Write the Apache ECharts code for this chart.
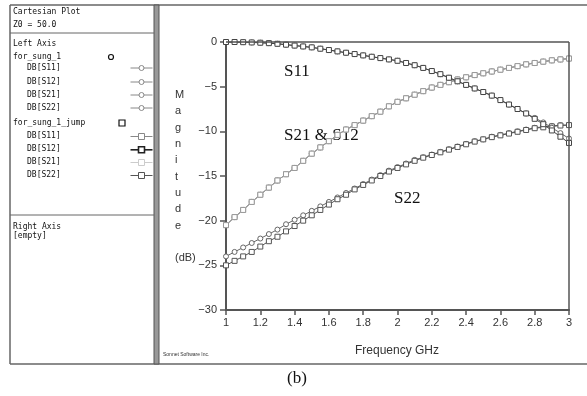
<!DOCTYPE html>
<html>
<head>
<meta charset="utf-8">
<script src="https://cdn.jsdelivr.net/npm/echarts@6/dist/echarts.min.js"></script>
<style>
  html, body { margin: 0; padding: 0; background: #fff; }
  #chart { width: 587px; height: 396px; }
</style>
</head>
<body>
<div id="chart"></div>
<script>
// frequency points (GHz)
const freq = [1.00, 1.05, 1.10, 1.15, 1.20, 1.25, 1.30, 1.35, 1.40, 1.45,
  1.50, 1.55, 1.60, 1.65, 1.70, 1.75, 1.80, 1.85, 1.90, 1.95,
  2.00, 2.05, 2.10, 2.15, 2.20, 2.25, 2.30, 2.35, 2.40, 2.45,
  2.50, 2.55, 2.60, 2.65, 2.70, 2.75, 2.80, 2.85, 2.90, 2.95, 3.00];

// magnitudes in dB
const s11 = [0.0, 0.0, -0.02, -0.05, -0.08, -0.13, -0.2, -0.3, -0.4, -0.5,
  -0.6, -0.75, -0.9, -1.05, -1.2, -1.35, -1.5, -1.65, -1.8, -1.95,
  -2.1, -2.35, -2.6, -2.9, -3.25, -3.6, -4.0, -4.4, -4.8, -5.2,
  -5.6, -6.0, -6.5, -7.0, -7.5, -8.0, -8.5, -9.0, -9.6, -10.2, -10.8];
const s11Jump = [0.0, 0.0, -0.02, -0.05, -0.08, -0.13, -0.2, -0.3, -0.4, -0.5,
  -0.6, -0.75, -0.9, -1.05, -1.2, -1.35, -1.5, -1.65, -1.8, -1.95,
  -2.1, -2.35, -2.6, -2.9, -3.25, -3.6, -4.0, -4.4, -4.8, -5.2,
  -5.6, -6.0, -6.5, -7.0, -7.5, -8.0, -8.6, -9.2, -9.9, -10.6, -11.3];
const s21 = [-20.5, -19.6, -18.8, -17.9, -17.1, -16.3, -15.5, -14.8, -14.1, -13.3,
  -12.5, -11.8, -11.1, -10.4, -9.8, -9.3, -8.8, -8.3, -7.8, -7.2,
  -6.7, -6.3, -5.9, -5.5, -5.1, -4.8, -4.5, -4.2, -3.95, -3.7,
  -3.5, -3.3, -3.1, -2.9, -2.7, -2.5, -2.35, -2.2, -2.05, -1.95, -1.85];
const s12 = s21;
const s22 = [-24.0, -23.5, -23.0, -22.5, -22.0, -21.5, -21.0, -20.4, -19.9, -19.4,
  -18.9, -18.4, -17.9, -17.4, -16.9, -16.4, -15.9, -15.4, -14.9, -14.4,
  -14.0, -13.6, -13.2, -12.9, -12.6, -12.3, -12.0, -11.7, -11.4, -11.1,
  -10.9, -10.6, -10.4, -10.2, -10.0, -9.8, -9.6, -9.5, -9.4, -9.3, -9.3];
const s22Jump = [-25.0, -24.5, -24.0, -23.5, -22.9, -22.3, -21.8, -21.2, -20.6, -20.0,
  -19.4, -18.8, -18.2, -17.6, -17.1, -16.5, -16.0, -15.5, -15.0, -14.5,
  -14.1, -13.7, -13.3, -12.95, -12.65, -12.35, -12.05, -11.75, -11.45, -11.15,
  -10.9, -10.65, -10.45, -10.25, -10.05, -9.85, -9.65, -9.55, -9.45, -9.35, -9.3];

const xTicks = [1, 1.2, 1.4, 1.6, 1.8, 2, 2.2, 2.4, 2.6, 2.8, 3];

const chart = echarts.init(document.getElementById('chart'));

function pts(arr) {
  return freq.map((f, i) => [f, arr[i]]);
}

function sweep(name, arr, symbol, color) {
  return {
    name: name,
    type: 'line',
    data: pts(arr),
    symbol: symbol,
    symbolSize: 5,
    showSymbol: true,
    animation: false,
    lineStyle: { color: color, width: 1 },
    itemStyle: { color: '#fff', borderColor: color, borderWidth: 1 }
  };
}

const mono = '"DejaVu Sans Mono", monospace';
function monoText(x, y, text, size) {
  return {
    type: 'text', left: x, top: y,
    style: { text: text, font: (size || 8) + 'px ' + mono, fill: '#111' }
  };
}
function legendLine(y, symbol, color, bold) {
  return {
    type: 'group', left: 128, top: y - 3,
    children: [
      { type: 'line', shape: { x1: 0, y1: 3, x2: 22, y2: 3 }, style: { stroke: color, lineWidth: bold ? 1.6 : 1 } },
      symbol === 'circle'
        ? { type: 'circle', shape: { cx: 11, cy: 3, r: 2.5 }, style: { fill: '#fff', stroke: color, lineWidth: 1 } }
        : { type: 'rect', shape: { x: 8, y: 0, width: 6, height: 6 }, style: { fill: '#fff', stroke: color, lineWidth: bold ? 1.6 : 1 } }
    ]
  };
}

const labels = ['DB[S11]', 'DB[S12]', 'DB[S21]', 'DB[S22]'];
const legendRows1 = [68, 82, 95, 108];
const legendRows2 = [136, 149, 162, 175];
const jumpColors = ['#888', '#222', '#ccc', '#555'];

const serif = '"Liberation Serif", "Times New Roman", serif';
const graphics = [
  // outer frame
  { type: 'line', shape: { x1: 10, y1: 5, x2: 587, y2: 5 }, style: { stroke: '#666', lineWidth: 1.5 } },
  { type: 'line', shape: { x1: 10, y1: 364, x2: 587, y2: 364 }, style: { stroke: '#666', lineWidth: 1.5 } },
  { type: 'line', shape: { x1: 10, y1: 5, x2: 10, y2: 364 }, style: { stroke: '#666', lineWidth: 1.5 } },
  { type: 'rect', shape: { x: 154, y: 5, width: 5, height: 359 }, style: { fill: '#999', stroke: '#555', lineWidth: 1 } },
  { type: 'line', shape: { x1: 10, y1: 33, x2: 154, y2: 33 }, style: { stroke: '#666', lineWidth: 1 } },
  { type: 'line', shape: { x1: 10, y1: 215, x2: 154, y2: 215 }, style: { stroke: '#666', lineWidth: 1 } },
  monoText(13, 8, 'Cartesian Plot'),
  monoText(13, 21, 'Z0 = 50.0'),
  monoText(13, 40, 'Left Axis'),
  monoText(13, 53, 'for_sung_1'),
  { type: 'circle', shape: { cx: 111, cy: 57, r: 2.5 }, style: { fill: '#fff', stroke: '#111', lineWidth: 1.2 } },
  monoText(13, 119, 'for_sung_1_jump'),
  { type: 'rect', shape: { x: 119, y: 120, width: 6, height: 6 }, style: { fill: '#fff', stroke: '#111', lineWidth: 1.2 } },
  monoText(13, 223, 'Right Axis'),
  monoText(13, 232, '[empty]'),
  { type: 'text', left: 163, top: 352, style: { text: 'Sonnet Software Inc.', font: '5px "Liberation Sans", Arial', fill: '#333' } },
  // axis titles
  {
    type: 'text', left: 175, top: 87,
    style: {
      text: 'M\na\ng\nn\ni\nt\nu\nd\ne\n\n(dB)', align: 'center',
      font: '11px "Liberation Sans", Arial', fill: '#333', lineHeight: 16.3
    }
  },
  { type: 'text', left: 355, top: 345, style: { text: 'Frequency GHz', font: '12px "Liberation Sans", Arial', fill: '#333' } },
  { type: 'text', left: 287, top: 370, style: { text: '(b)', font: '17px ' + serif, fill: '#111' } },
  // curve annotations
  { type: 'text', left: 284, top: 63, style: { text: 'S11', font: '17px ' + serif, fill: '#111' } },
  { type: 'text', left: 284, top: 127, style: { text: 'S21 & S12', font: '17px ' + serif, fill: '#111' } },
  { type: 'text', left: 394, top: 190, style: { text: 'S22', font: '17px ' + serif, fill: '#111' } }
];
labels.forEach((t, i) => {
  graphics.push(monoText(27, legendRows1[i] - 4, t));
  graphics.push(legendLine(legendRows1[i], 'circle', '#888', false));
  graphics.push(monoText(27, legendRows2[i] - 4, t));
  graphics.push(legendLine(legendRows2[i], 'rect', jumpColors[i], i === 1));
});

const option = {
  backgroundColor: '#fff',
  animation: false,
  grid: { left: 226, top: 42, right: 18, bottom: 86 },
  xAxis: {
    type: 'value', min: 1, max: 3, interval: 0.2,
    axisLine: { show: true, onZero: false, lineStyle: { color: '#555', width: 2 } },
    axisTick: { show: true, length: 5, lineStyle: { color: '#555', width: 1.5 } },
    splitLine: { show: false },
    axisLabel: {
      color: '#333', fontSize: 11, fontFamily: '"Liberation Sans", Arial', margin: 7,
      formatter: v => String(Math.round(v * 10) / 10),
      customValues: xTicks
    }
  },
  yAxis: {
    type: 'value', min: -30, max: 0, interval: 5,
    axisLine: { show: true, onZero: false, lineStyle: { color: '#555', width: 2 } },
    axisTick: { show: true, length: 6, lineStyle: { color: '#555', width: 1.5 } },
    splitLine: { show: false },
    axisLabel: {
      color: '#333', fontSize: 11, fontFamily: '"Liberation Sans", Arial', margin: 9,
      formatter: v => (v < 0 ? '\u2212' + Math.abs(v) : String(v))
    }
  },
  graphic: graphics,
  series: [
    sweep('DB[S12]', s12, 'circle', '#999'),
    sweep('DB[S21]', s21, 'circle', '#999'),
    sweep('DB[S21] jump', s21, 'rect', '#aaa'),
    sweep('DB[S12] jump', s12, 'rect', '#999'),
    sweep('DB[S22]', s22, 'circle', '#666'),
    sweep('DB[S22] jump', s22Jump, 'rect', '#555'),
    sweep('DB[S11]', s11, 'circle', '#666'),
    sweep('DB[S11] jump', s11Jump, 'rect', '#444'),
    {
      // plot box top/right borders
      type: 'line', data: [], silent: true,
      markLine: {
        symbol: 'none', silent: true, animation: false, label: { show: false },
        lineStyle: { color: '#555', width: 1.5, type: 'solid' },
        data: [[{ coord: [1, 0] }, { coord: [3, 0] }], [{ coord: [3, 0] }, { coord: [3, -30] }]]
      }
    }
  ]
};

chart.setOption(option);
</script>
</body>
</html>
